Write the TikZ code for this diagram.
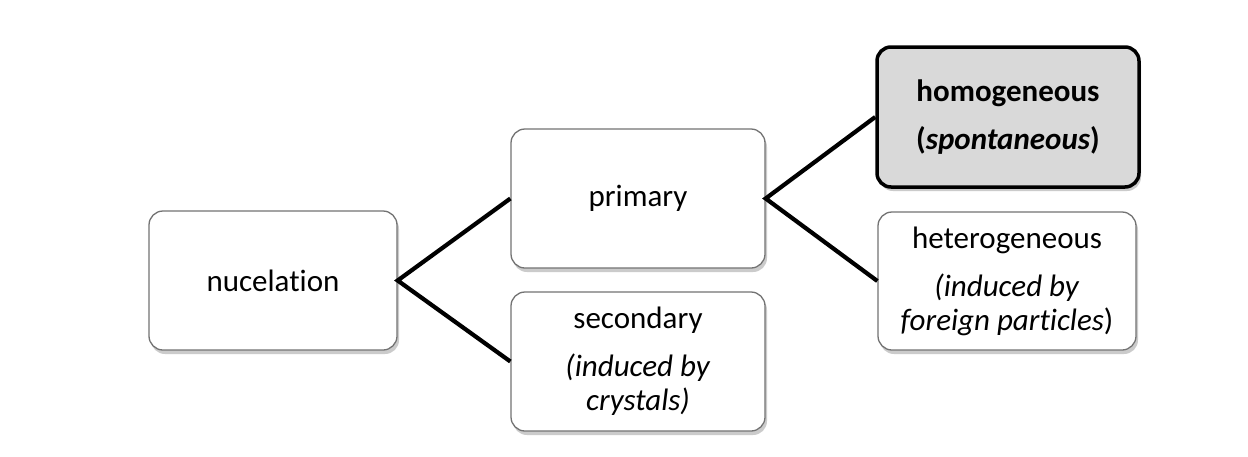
\documentclass[tikz,border=0pt]{standalone}
\usepackage{fontspec}
\setmainfont{Carlito}[Ligatures=NoCommon]
\usetikzlibrary{shadows}
\begin{document}
\begin{tikzpicture}[x=1pt,y=-1pt,
  boxstyle/.style={draw=black!55, line width=1.3pt, rounded corners=14pt, fill=white,
    drop shadow={shadow xshift=2pt, shadow yshift=-4pt, fill=black!45, opacity=0.45},
    align=center, inner sep=0pt, font=\fontsize{31}{34}\selectfont},
  hlbox/.style={boxstyle, draw=black, line width=3.5pt, fill=black!15},
  conn/.style={line width=4.2pt, line join=miter}]
\useasboundingbox (0,0) rectangle (1248,456);
\fill[white] (0,0) rectangle (1248,456);
\node[boxstyle, minimum width=248pt, minimum height=139pt] (nuc) at (273,280.5) {nucelation};
\node[boxstyle, minimum width=254pt, minimum height=139pt] (pri) at (638,198.5) {primary};
\node[boxstyle, minimum width=254pt, minimum height=139pt] (sec) at (638,361.5) {secondary\\[14pt]\textit{(induced by}\\\textit{crystals)}};
\node[hlbox, minimum width=262pt, minimum height=140pt] (hom) at (1008,117) {\textbf{homogeneous}\\[14pt]\textbf{(\textit{spontaneous})}};
\node[boxstyle, minimum width=258pt, minimum height=138pt] (het) at (1007,281) {heterogeneous\\[14pt]\textit{(induced by}\\\textit{foreign particles})};
\draw[conn] (pri.west) -- (nuc.east) -- (sec.west);
\draw[conn] (hom.west) -- (pri.east) -- (het.west);
\end{tikzpicture}
\end{document}
